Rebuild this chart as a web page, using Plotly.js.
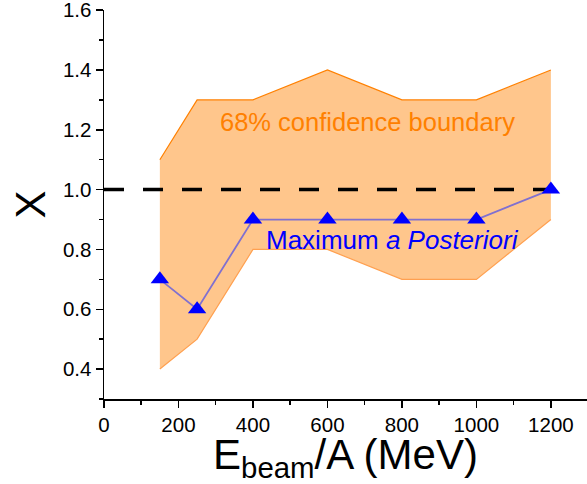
<!DOCTYPE html>
<html><head><meta charset="utf-8">
<script src="https://cdn.plot.ly/plotly-3.0.1.min.js"></script>
<style>html,body{margin:0;padding:0;overflow:hidden;background:#fff}</style>
</head><body><div id="chart" style="width:587px;height:484px"></div>
<script>
const energy = [150, 250, 400, 600, 800, 1000, 1200];
const upperBound = [1.1, 1.3, 1.3, 1.4, 1.3, 1.3, 1.4];
const lowerBound = [0.4, 0.5, 0.8, 0.8, 0.7, 0.7, 0.9];
const mapValues = [0.7, 0.6, 0.9, 0.9, 0.9, 0.9, 1.0];
const refX = [0, 1200];
const refY = [1.0, 1.0];

const FONT = 'Arial';
const traces = [
  {x: energy, y: lowerBound, type: 'scatter', mode: 'lines', line: {color: '#FFA050', width: 1.2}, hoverinfo: 'skip'},
  {x: energy, y: upperBound, type: 'scatter', mode: 'lines', fill: 'tonexty', fillcolor: '#FFC68C', line: {color: '#FF8000', width: 1.2}, hoverinfo: 'skip'},
  {x: refX, y: refY, type: 'scatter', mode: 'lines', line: {color: '#000000', width: 3.5, dash: '20px,19px'}},
  {x: energy, y: mapValues, type: 'scatter', mode: 'lines+markers', line: {color: '#8070D0', width: 1.8}, marker: {symbol: 'triangle-up', size: 16, color: '#0000FF'}}
];

const axisFont = {family: FONT, size: 20.5, color: '#000'};
const layout = {
  width: 587, height: 484,
  margin: {l: 104, r: 0, t: 10, b: 85},
  paper_bgcolor: '#fff', plot_bgcolor: '#fff',
  showlegend: false,
  xaxis: {
    range: [0, 1297], tickvals: [0, 200, 400, 600, 800, 1000, 1200],
    ticks: 'outside', ticklen: 7, tickwidth: 1.5, tickcolor: '#000',
    minor: {dtick: 100, ticks: 'outside', ticklen: 4, tickwidth: 1.5, tickcolor: '#000', tick0: 0},
    showline: true, linecolor: '#000', linewidth: 1.5, showgrid: false, zeroline: false,
    tickfont: axisFont, ticklabeloverflow: 'allow',
    title: {text: 'E<sub>beam</sub>/A (MeV)', font: {family: FONT, size: 42, color: '#000'}, standoff: 3}
  },
  yaxis: {
    range: [0.3, 1.6005], tickvals: [0.4, 0.6, 0.8, 1.0, 1.2, 1.4, 1.6], ticktext: ['0.4','0.6','0.8','1.0','1.2','1.4','1.6'],
    ticks: 'outside', ticklen: 7, tickwidth: 1.5, tickcolor: '#000',
    minor: {dtick: 0.1, ticks: 'outside', ticklen: 4, tickwidth: 1.5, tickcolor: '#000', tick0: 0.3},
    showline: true, linecolor: '#000', linewidth: 1.5, showgrid: false, zeroline: false,
    tickfont: axisFont, ticklabeloverflow: 'allow',
    title: {text: 'X', font: {family: FONT, size: 42, color: '#000'}, standoff: 4}
  },
  annotations: [
    {x: 707, y: 1.226, xref: 'x', yref: 'y', text: '68% confidence boundary', showarrow: false,
     font: {family: FONT, size: 25.5, color: '#FF8000'}},
    {x: 776, y: 0.832, xref: 'x', yref: 'y', text: 'Maximum <i>a Posteriori</i>', showarrow: false,
     font: {family: FONT, size: 26, color: '#0000FF'}}
  ]
};
Plotly.newPlot('chart', traces, layout, {displayModeBar: false, staticPlot: true});
</script></body></html>
